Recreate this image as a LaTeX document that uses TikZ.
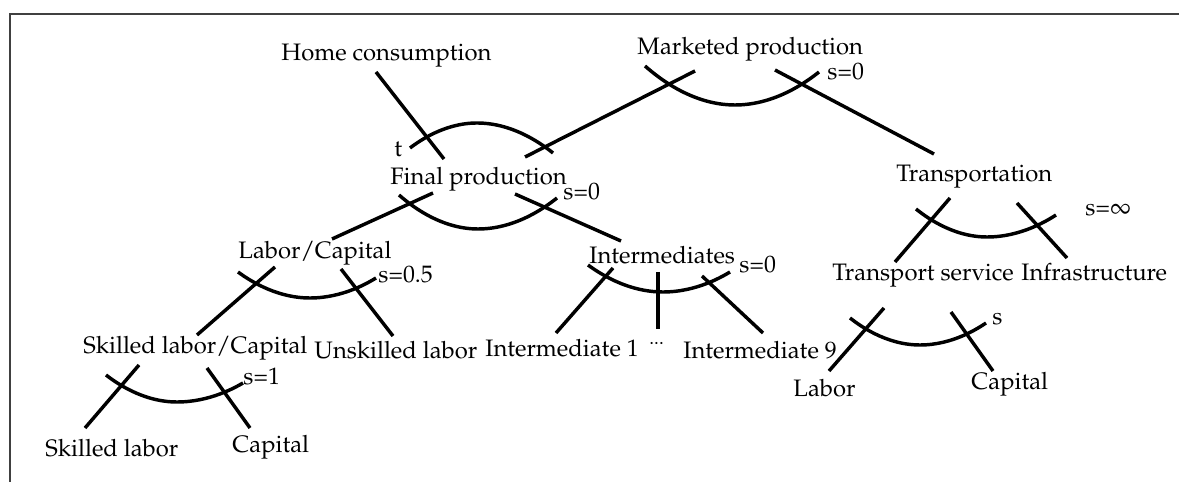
\documentclass[tikz,border=0pt]{standalone}
\usepackage[T1]{fontenc}
\usepackage{mathpazo}
\begin{document}
\begin{tikzpicture}[x=0.42pt,y=-0.42pt,
  lbl/.style={inner sep=0pt, anchor=base west, font=\fontsize{10}{12}\selectfont},
  conn/.style={line width=1.45pt},
  nest/.style={line width=1.45pt},
  frame/.style={line width=0.6pt, black!75}]
\useasboundingbox (0,0) rectangle (1179,482);
\draw[frame] (10,482) -- (10,14) -- (1179,14);

% labels
\node[lbl] (home) at (281,61) {Home consumption};
\node[lbl] (market) at (637,54.5) {Marketed production};
\node[lbl] (s1) at (827,80) {s=0};
\node[lbl] (t) at (394,157) {t};
\node[lbl] (final) at (390,185) {Final production};
\node[lbl] (s2) at (563,200) {s=0};
\node[lbl] (lc) at (238,259) {Labor/Capital};
\node[lbl] (s3) at (378,283) {s=0.5};
\node[lbl] (inter) at (589,264) {Intermediates};
\node[lbl] (s4) at (739,273) {s=0};
\node[lbl] (trans) at (896,182) {Transportation};
\node[lbl] (s5) at (1085,216) {s=$\infty$};
\node[lbl] (tserv) at (832,281) {Transport service};
\node[lbl] (infra) at (1021,281) {Infrastructure};
\node[lbl] (slc) at (83,354) {Skilled labor/Capital};
\node[lbl] (ul) at (314,359) {Unskilled labor};
\node[lbl] (i1) at (485,357) {Intermediate 1};
\node[lbl, font=\fontsize{8}{9}\selectfont] (dots) at (649,345) {...};
\node[lbl] (i9) at (683,359) {Intermediate 9};
\node[lbl] (s6) at (243,385) {s=1};
\node[lbl] (sl) at (45,457) {Skilled labor};
\node[lbl] (cap1) at (232,453) {Capital};
\node[lbl] (lab) at (793,397) {Labor};
\node[lbl] (cap2) at (971,390) {Capital};
\node[lbl] (s7) at (992,325) {s};

% connector end points
\coordinate (home-a) at (376,72);   \coordinate (home-b) at (444,159);
\coordinate (mf-a) at (695,71);     \coordinate (mf-b) at (525,157);
\coordinate (mt-a) at (775,70);     \coordinate (mt-b) at (934,154);
\coordinate (fl-a) at (433,193);    \coordinate (fl-b) at (332,239);
\coordinate (fi-a) at (515,194);    \coordinate (fi-b) at (621,241);
\coordinate (ls-a) at (275,267);    \coordinate (ls-b) at (197,335);
\coordinate (lu-a) at (341,269);    \coordinate (lu-b) at (393,336);
\coordinate (ss-a) at (139,365);    \coordinate (ss-b) at (85,428);
\coordinate (sc-a) at (207,368);    \coordinate (sc-b) at (250,428);
\coordinate (i1-a) at (613,268);    \coordinate (i1-b) at (556,333);
\coordinate (id-a) at (658,272);    \coordinate (id-b) at (658,329);
\coordinate (i9-a) at (702,276);    \coordinate (i9-b) at (763,333);
\coordinate (ts-a) at (950,198);    \coordinate (ts-b) at (895,262);
\coordinate (ti-a) at (1017,203);   \coordinate (ti-b) at (1067,258);
\coordinate (vl-a) at (884,308);    \coordinate (vl-b) at (829,371);
\coordinate (vc-a) at (951,312);    \coordinate (vc-b) at (993,371);

% connectors
\foreach \c in {home,mf,mt,fl,fi,ls,lu,ss,sc,i1,id,i9,ts,ti,vl,vc}
  \draw[conn] (\c-a) -- (\c-b);

% nesting arcs
\draw[nest] (645,66) parabola bend (735,105) (819,72);
\draw[nest] (410,148) parabola bend (477,123) (553,153);
\draw[nest] (399,195) parabola bend (478,229) (557,198);
\draw[nest] (238,272) parabola bend (310,298) (376,278);
\draw[nest] (106,375) parabola bend (177,402) (243,383);
\draw[nest] (588,265) parabola bend (663,292) (730,272);
\draw[nest] (916,209) parabola bend (987,237) (1056,215);
\draw[nest] (850,318) parabola bend (920,345) (986,323);
\end{tikzpicture}
\end{document}
